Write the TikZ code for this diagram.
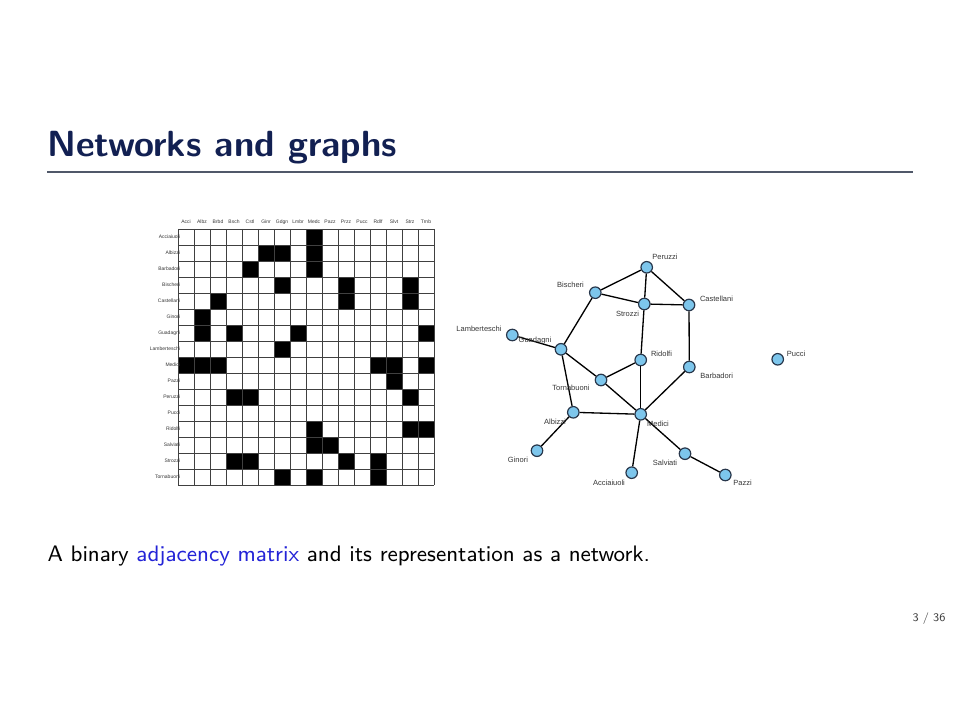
\documentclass[tikz,border=0pt]{standalone}
\usepackage{fontspec}
\newfontfamily\plotfont{Liberation Sans}
\definecolor{titlenavy}{RGB}{18,32,82}
\definecolor{rulegray}{RGB}{80,88,105}
\definecolor{linkblue}{RGB}{35,35,215}
\definecolor{nodeblue}{RGB}{125,198,236}
\definecolor{nodeedge}{RGB}{40,55,75}
\definecolor{labelgray}{RGB}{55,55,55}
\begin{document}
\begin{tikzpicture}[x=0.13333mm,y=-0.13333mm,
  fam/.style={circle,draw=nodeedge,fill=nodeblue,line width=0.45pt,minimum size=11.5*0.13333mm,inner sep=0pt},
  famlbl/.style={font=\plotfont\fontsize{2.85}{3.2}\selectfont,text=labelgray,inner sep=0pt},
  matlbl/.style={font=\plotfont\fontsize{1.9}{2.2}\selectfont,text=labelgray,inner sep=0pt},
  tie/.style={line width=0.5pt,black},
  gridline/.style={line width=0.35pt,draw=black!75}]
\useasboundingbox[fill=white] (0,0) rectangle (960,720);
% title and rule
\node[anchor=base west,inner sep=0pt,font=\sffamily\bfseries\fontsize{13.8}{16}\selectfont,text=titlenavy] (title) at (47,157) {Networks and graphs};
\coordinate (ruleL) at (47,172);
\coordinate (ruleR) at (913,172);
\draw[rulegray,line width=0.6pt] (ruleL) -- (ruleR);
% matrix cells
\foreach \r/\cs in {1/{9},2/{6,7,9},3/{5,9},4/{7,11,15},5/{3,11,15},6/{2},7/{2,4,8,16},8/{7},9/{1,2,3,13,14,16},10/{14},11/{4,5,15},13/{9,15,16},14/{9,10},15/{4,5,11,13},16/{7,9,13}}{
  \foreach \c in \cs {
    \fill[black] ({178+16*(\c-1)},{229+16*(\r-1)}) rectangle ++(16,16);
  }
}
\foreach \i in {0,...,16}{
  \draw[gridline] ({178+16*\i},229) -- ({178+16*\i},485);
  \draw[gridline] (178,{229+16*\i}) -- (434,{229+16*\i});
}
% column labels
\foreach \ab [count=\i] in {Acci,Albz,Brbd,Bsch,Cstl,Ginr,Gdgn,Lmbr,Medc,Pazz,Przz,Pucc,Rdlf,Slvt,Strz,Trnb}{
  \node[matlbl] (col\i) at ({178+16*\i-8},222) {\ab};
}
% row labels
\foreach \nm [count=\i] in {Acciaiuoli,Albizzi,Barbadori,Bischeri,Castellani,Ginori,Guadagni,Lamberteschi,Medici,Pazzi,Peruzzi,Pucci,Ridolfi,Salviati,Strozzi,Tornabuoni}{
  \node[matlbl,anchor=east] (row\i) at (180.5,{229+16*\i-8}) {\nm};
}
% network nodes
\node[fam] (Peruzzi) at (646.7,267.3) {};
\node[fam] (Bischeri) at (595.3,292.7) {};
\node[fam] (Strozzi) at (644.3,304) {};
\node[fam] (Castellani) at (689,305) {};
\node[fam] (Lamberteschi) at (512.3,335) {};
\node[fam] (Guadagni) at (561,349.3) {};
\node[fam] (Ridolfi) at (640.7,360) {};
\node[fam] (Pucci) at (777.7,359.3) {};
\node[fam] (Barbadori) at (689.3,367) {};
\node[fam] (Tornabuoni) at (601,380) {};
\node[fam] (Albizzi) at (573.3,412.3) {};
\node[fam] (Medici) at (640.7,414.3) {};
\node[fam] (Ginori) at (537,450.7) {};
\node[fam] (Salviati) at (685,453.7) {};
\node[fam] (Acciaiuoli) at (631.7,472.7) {};
\node[fam] (Pazzi) at (725.3,475) {};
% edges
\foreach \a/\b in {Peruzzi/Bischeri,Peruzzi/Strozzi,Peruzzi/Castellani,Bischeri/Strozzi,Strozzi/Castellani,Bischeri/Guadagni,Lamberteschi/Guadagni,Guadagni/Tornabuoni,Guadagni/Albizzi,Strozzi/Ridolfi,Ridolfi/Tornabuoni,Ridolfi/Medici,Castellani/Barbadori,Barbadori/Medici,Tornabuoni/Medici,Albizzi/Medici,Albizzi/Ginori,Medici/Acciaiuoli,Medici/Salviati,Salviati/Pazzi}{
  \draw[tie] (\a) -- (\b);
}
% network labels
\node[famlbl] (lPeruzzi) at (665,257) {Peruzzi};
\node[famlbl] (lBischeri) at (570.5,285) {Bischeri};
\node[famlbl] (lStrozzi) at (627.5,314) {Strozzi};
\node[famlbl] (lCastellani) at (716.5,298.5) {Castellani};
\node[famlbl] (lLamberteschi) at (479,328.5) {Lamberteschi};
\node[famlbl] (lGuadagni) at (535,341) {Guadagni};
\node[famlbl] (lRidolfi) at (661.5,353.5) {Ridolfi};
\node[famlbl] (lPucci) at (796,353.5) {Pucci};
\node[famlbl] (lBarbadori) at (716.7,376) {Barbadori};
\node[famlbl] (lTornabuoni) at (571,388.3) {Tornabuoni};
\node[famlbl] (lAlbizzi) at (555,422.3) {Albizzi};
\node[famlbl] (lMedici) at (658,424.3) {Medici};
\node[famlbl] (lGinori) at (518,460) {Ginori};
\node[famlbl] (lSalviati) at (665,463.3) {Salviati};
\node[famlbl] (lAcciaiuoli) at (609,483.3) {Acciaiuoli};
\node[famlbl] (lPazzi) at (742.5,483.3) {Pazzi};
% caption
\node[anchor=base west,inner sep=0pt,font=\sffamily\fontsize{8.5}{10}\selectfont] (caption) at (47,561) {A binary \textcolor{linkblue}{adjacency matrix} and its representation as a network.};
% page number
\node[anchor=base east,inner sep=0pt,font=\sffamily\fontsize{4.4}{5.5}\selectfont,text=black!75] (pagenum) at (946,621) {3 / 36};
\end{tikzpicture}
\end{document}
